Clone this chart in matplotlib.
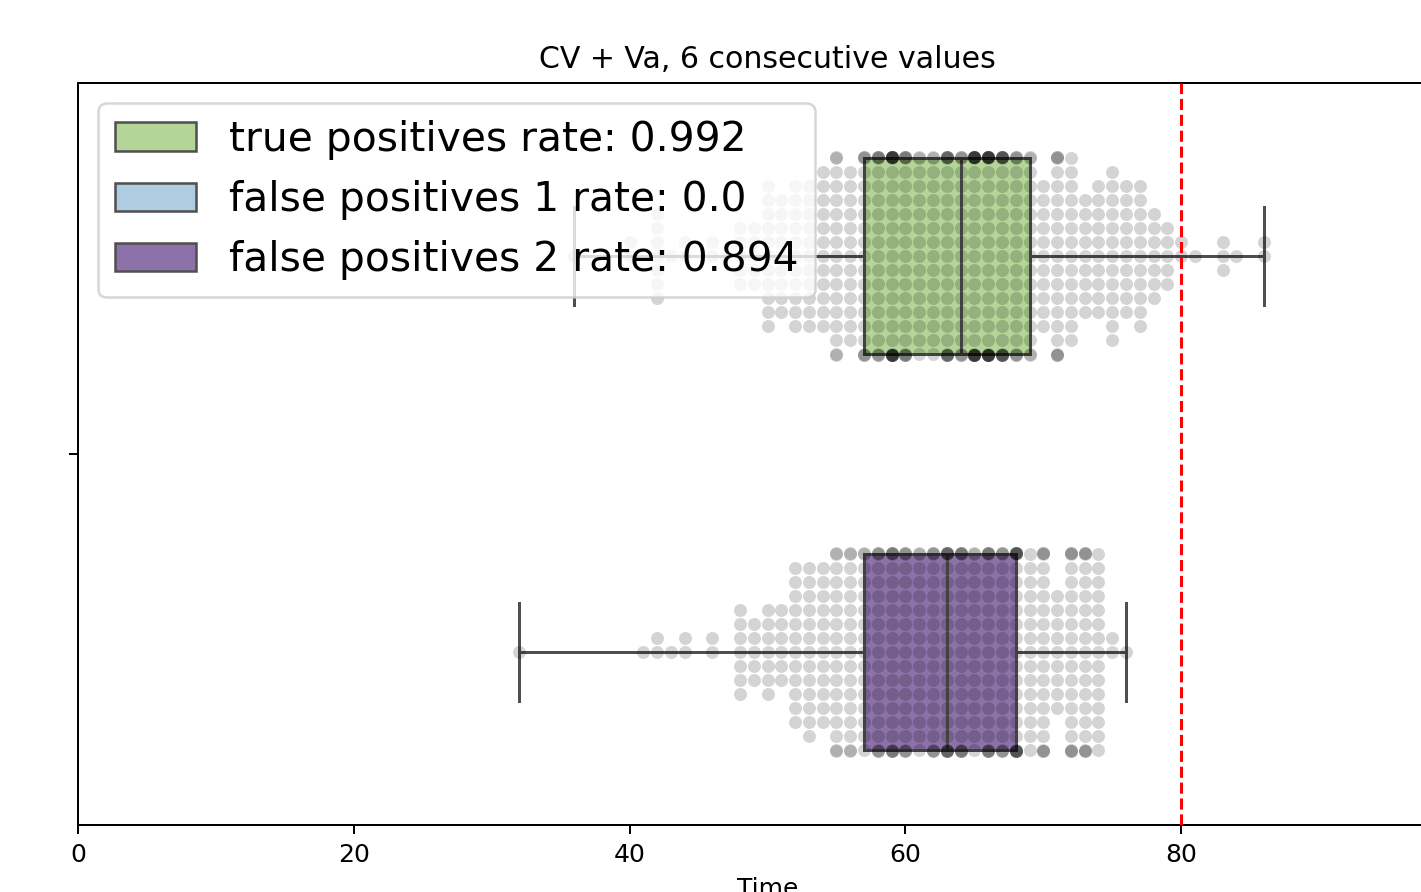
import numpy as np
import matplotlib.pyplot as plt
from matplotlib.patches import Patch

# values: time value -> how many points sit at it
tp_values = [36, 40, 42, 43, 44, 46, 47, 48, 49, 50, 51, 52, 53, 54, 55, 56,
             57, 58, 59, 60, 61, 62, 63, 64, 65, 66, 67, 68, 69,
             70, 71, 72, 73, 74, 75, 76, 77, 78, 79, 80, 81, 83, 84, 86]
tp_counts = [1, 2, 7, 1, 2, 2, 1, 5, 5, 11, 9, 11, 11, 12, 17, 13,
             19, 20, 29, 21, 16, 16, 23, 19, 29, 29, 25, 19, 17,
             11, 19, 14, 9, 10, 13, 10, 11, 7, 5, 2, 1, 3, 1, 2]

fp2_values = [32, 41, 42, 43, 44, 46, 48, 49, 50, 51, 52, 53, 54, 55, 56,
              57, 58, 59, 60, 61, 62, 63, 64, 65, 66, 67, 68,
              69, 70, 71, 72, 73, 74, 75, 76]
fp2_counts = [1, 1, 2, 1, 2, 2, 7, 5, 7, 6, 12, 13, 12, 17, 17,
              16, 19, 21, 19, 16, 19, 23, 21, 16, 21, 19, 25,
              15, 19, 9, 19, 19, 15, 2, 1]

labels = ['true positives rate: 0.992',
          'false positives 1 rate: 0.0',
          'false positives 2 rate: 0.894']
colors = ['#b3d597', '#aecde1', '#8c72a8']
threshold = 80
xticks = [0, 20, 40, 60, 80]

tp_times = np.repeat(tp_values, tp_counts)
fp2_times = np.repeat(fp2_values, fp2_counts)
line_col = '#4f4f4f'


def swarm_offsets(times, step, half):
    # stack equal values around the centre, overflow goes to the edges
    offs = np.zeros(len(times))
    for v in np.unique(times):
        idx = np.where(times == v)[0]
        for j, i in enumerate(idx):
            k = (j + 1) // 2 * (1 if j % 2 else -1)
            offs[i] = np.clip(k * step, -half, half)
    return offs


dpi = 180
fig = plt.figure(figsize=(1421 / dpi, 892 / dpi), dpi=dpi)
ax = fig.add_axes([78 / 1421, 1 - 825 / 892, 1379 / 1421, 742 / 892])

width = 0.8 / 3
groups = [(tp_times, width, colors[0]), (fp2_times, -width, colors[2])]
for times, pos, col in groups:
    ax.boxplot([times], positions=[pos], widths=width * 0.99, orientation='horizontal',
               patch_artist=True, whis=(0, 100), showfliers=False,
               boxprops=dict(facecolor=col, edgecolor=line_col, linewidth=1.2),
               medianprops=dict(color=line_col, linewidth=1.2),
               whiskerprops=dict(color=line_col, linewidth=1.2),
               capprops=dict(color=line_col, linewidth=1.2), zorder=2)
    offs = swarm_offsets(times, 0.01887, width / 2)
    ax.scatter(times, pos + offs, s=27, color='k', alpha=0.17, linewidths=0, zorder=3)

ax.axvline(threshold, color='red', linestyle='--', linewidth=1.2, zorder=4)

ax.set_xlim(0, 100)
ax.set_ylim(-0.5, 0.5)
ax.set_xticks(xticks)
ax.set_yticks([0])
ax.set_yticklabels([''])
ax.set_title('CV + Va, 6 consecutive values')
ax.set_xlabel('Time')

handles = [Patch(facecolor=c, edgecolor=line_col, linewidth=1.0) for c in colors]
leg = ax.legend(handles, labels, loc='upper left', fontsize=16.3)
leg.set_zorder(5)

fig.savefig('out.png', dpi=dpi)
